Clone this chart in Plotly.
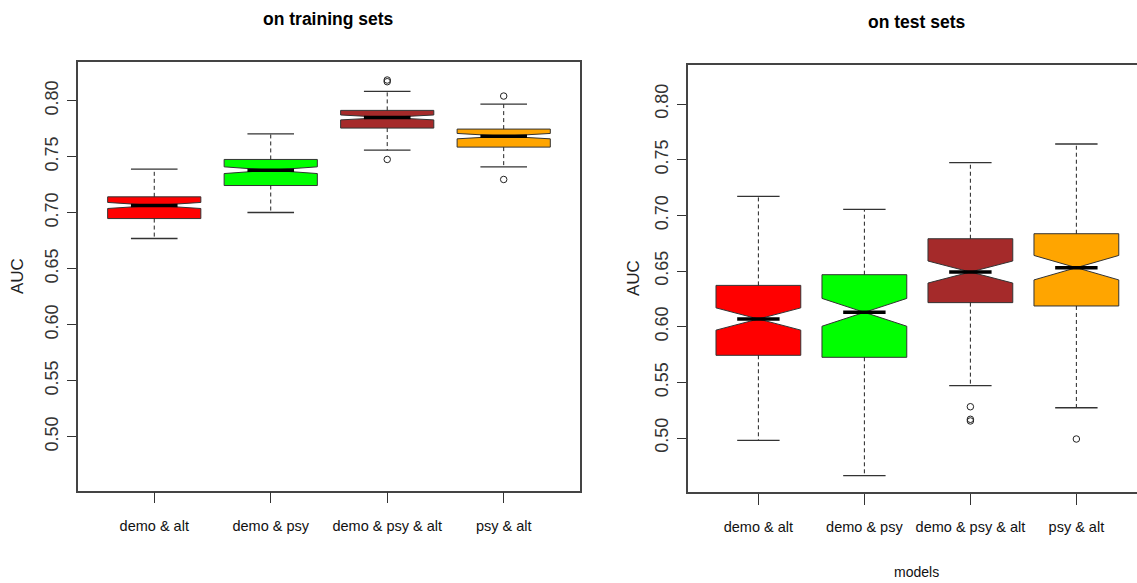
import plotly.graph_objects as go

# model groups and fill colours
models = ["demo & alt", "demo & psy", "demo & psy & alt", "psy & alt"]
colors = ["#FF0000", "#00FF00", "#A52A2A", "#FFA500"]

# AUC summaries on the training sets
train_lo = [0.6770, 0.7002, 0.7559, 0.7410]
train_q1 = [0.6948, 0.7243, 0.7756, 0.7586]
train_med = [0.7065, 0.7380, 0.7851, 0.7684]
train_q3 = [0.7142, 0.7476, 0.7914, 0.7747]
train_hi = [0.7390, 0.7705, 0.8083, 0.7970]
train_notch = [0.0027, 0.0030, 0.0022, 0.0024]
train_out = [[], [], [0.8185, 0.8170, 0.7476], [0.8042, 0.7297]]

# AUC summaries on the test sets
test_lo = [0.4979, 0.4662, 0.5470, 0.5272]
test_q1 = [0.5743, 0.5725, 0.6216, 0.6186]
test_med = [0.6069, 0.6129, 0.6491, 0.6530]
test_q3 = [0.6371, 0.6467, 0.6790, 0.6835]
test_hi = [0.7171, 0.7054, 0.7473, 0.7641]
test_notch = [0.0100, 0.0125, 0.0099, 0.0110]
test_out = [[], [], [0.5281, 0.5168, 0.5153], [0.4991]]

y_ticks = [0.50, 0.55, 0.60, 0.65, 0.70, 0.75, 0.80]

W, H = 1137, 583
BOX_W = 0.8
CAP = 0.2      # half width of whisker staples
WAIST = 0.2    # half width of the notch waist / median bar
EDGE = "#333333"
SANS = "Liberation Sans, Arial, sans-serif"

fig = go.Figure()


def px_x(p):
    return p / W


def px_y(p):
    return (H - p) / H


def add_panel(xa, ya, lo, q1, med, q3, hi, notch, outs):
    xs = list(range(len(models)))
    for i in xs:
        fig.add_trace(go.Box(
            x=[i], q1=[q1[i]], median=[med[i]], q3=[q3[i]],
            lowerfence=[q1[i]], upperfence=[q3[i]], notchspan=[notch[i]],
            notched=True, notchwidth=0.5, width=BOX_W, boxpoints=False,
            fillcolor=colors[i], line=dict(color=EDGE, width=1),
            whiskerwidth=0, xaxis=xa, yaxis=ya, showlegend=False,
            hoverinfo="skip"))
    # dashed whisker stems
    sx, sy = [], []
    for i in xs:
        sx += [i, i, None, i, i, None]
        sy += [q3[i], hi[i], None, q1[i], lo[i], None]
    fig.add_trace(go.Scatter(x=sx, y=sy, mode="lines",
                             line=dict(color="#222222", width=1, dash="4px,3px"),
                             xaxis=xa, yaxis=ya, showlegend=False, hoverinfo="skip"))
    # staples
    cx, cy = [], []
    for i in xs:
        cx += [i - CAP, i + CAP, None, i - CAP, i + CAP, None]
        cy += [hi[i], hi[i], None, lo[i], lo[i], None]
    fig.add_trace(go.Scatter(x=cx, y=cy, mode="lines",
                             line=dict(color="#333333", width=1.3),
                             xaxis=xa, yaxis=ya, showlegend=False, hoverinfo="skip"))
    # thick median bars
    mx, my = [], []
    for i in xs:
        mx += [i - WAIST, i + WAIST, None]
        my += [med[i], med[i], None]
    fig.add_trace(go.Scatter(x=mx, y=my, mode="lines",
                             line=dict(color="black", width=3.5),
                             xaxis=xa, yaxis=ya, showlegend=False, hoverinfo="skip"))
    # outliers
    ox, oy = [], []
    for i in xs:
        for v in outs[i]:
            ox.append(i)
            oy.append(v)
    fig.add_trace(go.Scatter(x=ox, y=oy, mode="markers",
                             marker=dict(symbol="circle-open", size=6.5,
                                         color="#222222", line=dict(width=1)),
                             xaxis=xa, yaxis=ya, showlegend=False, hoverinfo="skip"))


add_panel("x", "y", train_lo, train_q1, train_med, train_q3, train_hi,
          train_notch, train_out)
add_panel("x2", "y2", test_lo, test_q1, test_med, test_q3, test_hi,
          test_notch, test_out)

xfont = dict(family=SANS, size=14.5, color="#111111")
yfont = dict(family=SANS, size=18, color="#333333")

common_x = dict(tickmode="array", tickvals=[0, 1, 2, 3], ticktext=models,
                tickangle=0, ticks="outside", ticklen=11, tickcolor="#333333",
                showgrid=False, zeroline=False, showline=True,
                linecolor="#444444", linewidth=1.5, tickfont=xfont,
                ticklabelstandoff=10)
common_y = dict(tickmode="array", tickvals=y_ticks,
                ticktext=["%.2f" % v for v in y_ticks], tickangle=-90,
                ticks="outside", ticklen=9, tickcolor="#333333",
                showgrid=False, zeroline=False, showline=True,
                linecolor="#444444", linewidth=1.5, tickfont=yfont,
                ticklabelstandoff=2)

fig.update_layout(
    width=W, height=H,
    margin=dict(l=0, r=0, t=0, b=0),
    paper_bgcolor="white", plot_bgcolor="white",
    xaxis=dict(domain=[px_x(77.6), px_x(580)], range=[-0.658, 3.655],
               anchor="y", mirror=True, **common_x),
    yaxis=dict(domain=[px_y(490.5), px_y(62)], range=[0.452, 0.8346],
               anchor="x", mirror=True, **common_y),
    xaxis2=dict(domain=[px_x(687.9), 1.0], range=[-0.665, 3.572],
                anchor="y2", mirror=True, **common_x),
    yaxis2=dict(domain=[px_y(492), px_y(65.3)], range=[0.4515, 0.8348],
                anchor="x2", mirror=False, **common_y),
    annotations=[
        dict(text="<b>on training sets</b>", x=px_x(328), y=px_y(19),
             xref="paper", yref="paper", showarrow=False,
             xanchor="center", yanchor="middle",
             font=dict(family=SANS, size=17.5, color="black")),
        dict(text="<b>on test sets</b>", x=px_x(916.5), y=px_y(22),
             xref="paper", yref="paper", showarrow=False,
             xanchor="center", yanchor="middle",
             font=dict(family=SANS, size=17.5, color="black")),
        dict(text="AUC", x=px_x(17), y=px_y(276), xref="paper", yref="paper",
             showarrow=False, textangle=-90, xanchor="center", yanchor="middle",
             font=dict(family=SANS, size=17, color="#222222")),
        dict(text="AUC", x=px_x(633), y=px_y(278), xref="paper", yref="paper",
             showarrow=False, textangle=-90, xanchor="center", yanchor="middle",
             font=dict(family=SANS, size=17, color="#222222")),
        dict(text="models", x=px_x(916.6), y=px_y(572), xref="paper",
             yref="paper", showarrow=False, xanchor="center", yanchor="middle",
             font=dict(family=SANS, size=14, color="#111111")),
    ],
)

fig.write_html("out.html")
